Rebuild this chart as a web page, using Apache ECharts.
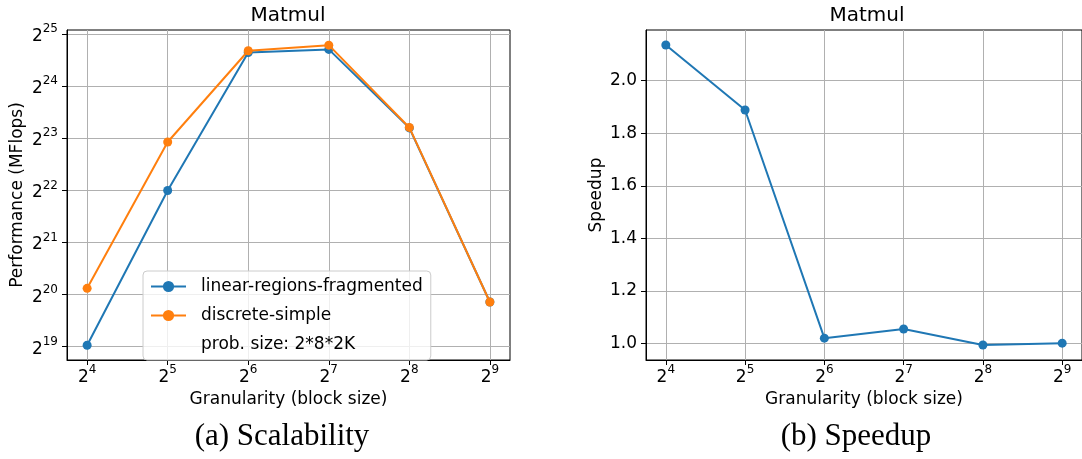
<!DOCTYPE html>
<html>
<head>
<meta charset="utf-8">
<script src="https://cdn.jsdelivr.net/npm/echarts@6/dist/echarts.min.js"></script>
<style>
  html, body { margin: 0; padding: 0; background: #fff; }
  #main { width: 1082px; height: 459px; }
</style>
</head>
<body>
<div id="main"></div>
<script>
// block sizes on the x axis (2^4 .. 2^9)
var blockSizes = [16, 32, 64, 128, 256, 512];
// performance in MFlops
var linearRegions = [535000, 4190000, 26300000, 27400000, 9640000, 951000];
var discreteSimple = [1140000, 7990000, 26900000, 29000000, 9700000, 951000];
// speedup (right panel)
var speedup = [2.135, 1.888, 1.021, 1.056, 0.995, 1.002];
// tick values
var perfTicks = [524288, 1048576, 2097152, 4194304, 8388608, 16777216, 33554432];
var speedupTicks = [1.0, 1.2, 1.4, 1.6, 1.8, 2.0];

var FONT = 'DejaVu Sans';
var BLUE = '#1f77b4';
var ORANGE = '#ff7f0e';

function pairs(xs, ys) {
  return xs.map(function (x, i) { return [x, ys[i]]; });
}

function pow2Label(v) {
  return '{b|2}{s|' + Math.round(Math.log(v) / Math.LN2) + '}';
}

var powRich = {
  b: { fontSize: 17, fontFamily: FONT, color: '#000', lineHeight: 22, verticalAlign: 'bottom' },
  s: { fontSize: 12, fontFamily: FONT, color: '#000', lineHeight: 12, verticalAlign: 'top' }
};

function xAxisCfg(idx) {
  return {
    type: 'log',
    logBase: 2,
    gridIndex: idx,
    min: Math.pow(2, 3.75),
    max: Math.pow(2, 9.25),
    name: 'Granularity (block size)',
    nameLocation: 'middle',
    nameGap: 29,
    nameTextStyle: { fontSize: 17, fontFamily: FONT, color: '#000' },
    axisLine: { onZero: false, lineStyle: { color: '#000', width: 1 } },
    axisTick: { show: true, length: 5, customValues: blockSizes, lineStyle: { color: '#000' } },
    axisLabel: { margin: 4, customValues: blockSizes, formatter: pow2Label, rich: powRich },
    splitLine: { show: true, lineStyle: { color: '#b0b0b0', width: 1 } },
    minorTick: { show: false },
    minorSplitLine: { show: false }
  };
}

var option = {
  animation: false,
  backgroundColor: '#fff',
  textStyle: { fontFamily: FONT },
  grid: [
    { left: 67, top: 30, width: 443, height: 330, show: true, borderColor: '#000', borderWidth: 1, backgroundColor: 'transparent' },
    { left: 646, top: 30, width: 443, height: 330, show: true, borderColor: '#000', borderWidth: 1, backgroundColor: 'transparent' }
  ],
  xAxis: [xAxisCfg(0), xAxisCfg(1)],
  yAxis: [
    {
      type: 'log',
      logBase: 2,
      gridIndex: 0,
      min: Math.pow(2, 18.745),
      max: Math.pow(2, 25.08),
      name: 'Performance (MFlops)',
      nameLocation: 'middle',
      nameGap: 41,
      nameTextStyle: { fontSize: 17, fontFamily: FONT, color: '#000' },
      axisLine: { lineStyle: { color: '#000', width: 1 } },
      axisTick: { show: true, length: 5, customValues: perfTicks, lineStyle: { color: '#000' } },
      axisLabel: { margin: 9, customValues: perfTicks, formatter: pow2Label, rich: powRich },
      splitLine: { show: true, lineStyle: { color: '#b0b0b0', width: 1 } },
      minorTick: { show: false },
      minorSplitLine: { show: false }
    },
    {
      type: 'value',
      gridIndex: 1,
      min: 0.938,
      max: 2.192,
      name: 'Speedup',
      nameLocation: 'middle',
      nameGap: 41,
      nameTextStyle: { fontSize: 17, fontFamily: FONT, color: '#000' },
      axisLine: { show: true, lineStyle: { color: '#000', width: 1 } },
      axisTick: { show: true, length: 5, customValues: speedupTicks, lineStyle: { color: '#000' } },
      axisLabel: {
        margin: 9, customValues: speedupTicks, fontSize: 17, fontFamily: FONT, color: '#000',
        formatter: function (v) { return v.toFixed(1); }
      },
      splitLine: { show: true, lineStyle: { color: '#b0b0b0', width: 1 } }
    }
  ],
  legend: {
    left: 143,
    top: 271,
    orient: 'vertical',
    selectedMode: false,
    padding: [7, 8, 7, 7],
    itemGap: 12,
    itemWidth: 35,
    itemHeight: 14,
    backgroundColor: 'rgba(255,255,255,0.8)',
    borderColor: '#cccccc',
    borderWidth: 1,
    borderRadius: 4,
    textStyle: { fontSize: 17, fontFamily: FONT, color: '#000', padding: [0, 0, 0, 10] },
    data: [
      { name: 'linear-regions-fragmented' },
      { name: 'discrete-simple' },
      { name: 'prob. size: 2*8*2K', icon: 'rect', itemStyle: { color: 'rgba(0,0,0,0)', borderWidth: 0 } }
    ]
  },
  series: [
    {
      name: 'linear-regions-fragmented',
      type: 'line',
      xAxisIndex: 0, yAxisIndex: 0,
      data: pairs(blockSizes, linearRegions),
      color: BLUE,
      symbol: 'circle', symbolSize: 9,
      lineStyle: { width: 2 },
      z: 3
    },
    {
      name: 'discrete-simple',
      type: 'line',
      xAxisIndex: 0, yAxisIndex: 0,
      data: pairs(blockSizes, discreteSimple),
      color: ORANGE,
      symbol: 'circle', symbolSize: 9,
      lineStyle: { width: 2 },
      z: 4
    },
    {
      name: 'prob. size: 2*8*2K',
      type: 'line',
      xAxisIndex: 0, yAxisIndex: 0,
      data: [],
      color: 'rgba(0,0,0,0)'
    },
    {
      name: 'Speedup',
      type: 'line',
      xAxisIndex: 1, yAxisIndex: 1,
      data: pairs(blockSizes, speedup),
      color: BLUE,
      symbol: 'circle', symbolSize: 9,
      lineStyle: { width: 2 },
      z: 3
    }
  ],
  graphic: [
    { type: 'text', x: 288, y: 16, style: { text: 'Matmul', font: '20px "DejaVu Sans"', fill: '#000', textAlign: 'center', textVerticalAlign: 'middle' } },
    { type: 'text', x: 867, y: 16, style: { text: 'Matmul', font: '20px "DejaVu Sans"', fill: '#000', textAlign: 'center', textVerticalAlign: 'middle' } },
    { type: 'text', x: 282, y: 437, style: { text: '(a) Scalability', font: '31px "Liberation Serif"', fill: '#000', textAlign: 'center', textVerticalAlign: 'middle' } },
    { type: 'text', x: 856, y: 437, style: { text: '(b) Speedup', font: '31px "Liberation Serif"', fill: '#000', textAlign: 'center', textVerticalAlign: 'middle' } }
  ]
};

var chart = echarts.init(document.getElementById('main'), null, { renderer: 'canvas' });
chart.setOption(option);
</script>
</body>
</html>
